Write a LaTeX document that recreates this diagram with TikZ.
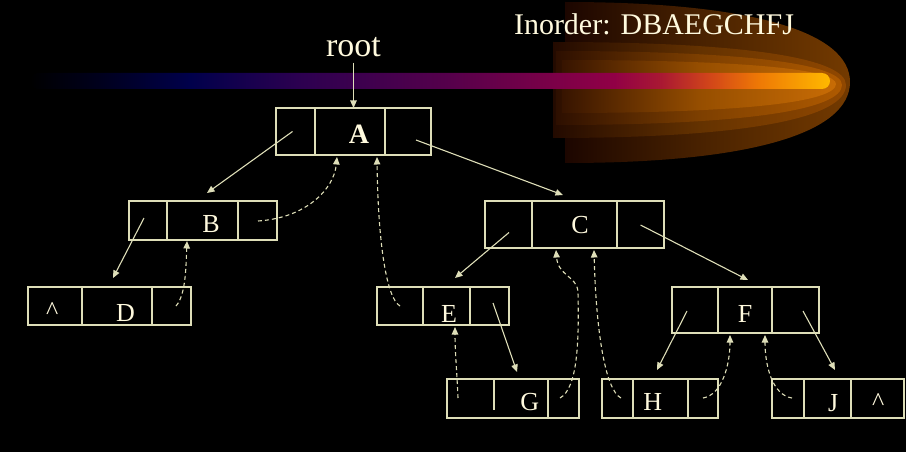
\documentclass[tikz,border=0pt]{standalone}
\usepackage{fontspec}
\setmainfont{Liberation Serif}
\usetikzlibrary{arrows.meta,calc}
\definecolor{lc}{RGB}{222,222,184}
\definecolor{tc}{RGB}{255,250,222}
\definecolor{b0}{RGB}{0,0,0}
\definecolor{b1}{RGB}{0,0,30}
\definecolor{b2}{RGB}{0,0,75}
\definecolor{b3}{RGB}{45,0,80}
\definecolor{b4}{RGB}{85,0,75}
\definecolor{b5}{RGB}{145,0,70}
\definecolor{b6}{RGB}{170,25,50}
\definecolor{b7}{RGB}{210,70,25}
\definecolor{b8}{RGB}{238,120,5}
\definecolor{b9}{RGB}{255,185,0}
\definecolor{g1l}{RGB}{28,6,0}
\definecolor{g1m}{RGB}{75,35,0}
\definecolor{g1r}{RGB}{115,58,0}
\definecolor{g2l}{RGB}{35,10,0}
\definecolor{g2m}{RGB}{100,50,0}
\definecolor{g2r}{RGB}{145,72,0}
\definecolor{g3l}{RGB}{45,15,0}
\definecolor{g3m}{RGB}{125,63,0}
\definecolor{g3r}{RGB}{175,90,0}
\definecolor{g4l}{RGB}{55,20,0}
\definecolor{g4m}{RGB}{150,78,0}
\definecolor{g4r}{RGB}{200,108,5}
\pgfdeclarehorizontalshading{barshade}{100bp}{color(0bp)=(b0); color(25bp)=(b0); color(29.5bp)=(b1); color(35bp)=(b2); color(42bp)=(b3); color(51bp)=(b4); color(61.5bp)=(b5); color(64.5bp)=(b6); color(67.5bp)=(b7); color(70.5bp)=(b8); color(75bp)=(b9); color(100bp)=(b9)}
\tikzset{
  cell/.style={rectangle,inner sep=0pt,outer sep=0pt},
  box/.style={draw=lc,line width=1.2pt},
  ptr/.style={draw=lc,line width=1.1pt,-{Triangle[length=7.5pt,width=6.5pt]}},
  thread/.style={ptr,dash pattern=on 4pt off 3pt},
  lbl/.style={text=tc,inner sep=0pt,anchor=base,font=\fontsize{26}{26}\selectfont}
}
\newcommand\mkrecord[7]{%
  \node[cell,minimum width={#3pt-#2pt},minimum height={#7pt-#6pt}] (#1-l) at ({(#2+#3)/2},{(#6+#7)/2}) {};
  \node[cell,minimum width={#4pt-#3pt},minimum height={#7pt-#6pt}] (#1-d) at ({(#3+#4)/2},{(#6+#7)/2}) {};
  \node[cell,minimum width={#5pt-#4pt},minimum height={#7pt-#6pt}] (#1-r) at ({(#4+#5)/2},{(#6+#7)/2}) {};
  \draw[box] (#1-l.north west) rectangle (#1-r.south east);
  \draw[box] (#1-d.north east) -- (#1-d.south east);
}
\newcommand\glowlayer[8]{%
  \shade[left color=#6,right color=#8,middle color=#7] (#1,#2) .. controls ({#1+0.66*(#4-#1)},#2) and (#4,{#5-0.62*(#5-#2)}) .. (#4,#5) .. controls (#4,{#5+0.62*(#3-#5)}) and ({#1+0.66*(#4-#1)},#3) .. (#1,#3) -- cycle;
}
\begin{document}
\begin{tikzpicture}[x=1pt,y=-1pt]
\useasboundingbox (0,0) rectangle (906,452);
\fill[black] (0,0) rectangle (906,452);
% glow
\glowlayer{565}{2}{163}{850}{82}{g1l}{g1m}{g1r}
\glowlayer{553}{42}{138}{846}{85}{g2l}{g2m}{g2r}
\glowlayer{556}{51}{125}{842}{85}{g3l}{g3m}{g3r}
\glowlayer{562}{60}{113}{836}{84}{g4l}{g4m}{g4r}
% bar
\shade[shading=barshade,rounded corners=8pt] (30,73) rectangle (830,89);
% titles
\node[lbl,font=\fontsize{30}{30}\selectfont] (inorder) at (654,35) {Inorder: DBAEGCHFJ};
\node[lbl,font=\fontsize{34}{34}\selectfont] (root) at (353.5,57) {root};
% records
\mkrecord{A}{276}{315}{385}{431}{108}{155}
\mkrecord{B}{129}{167}{238}{277}{201}{240}
\mkrecord{C}{485}{532}{617}{664}{201}{248}
\mkrecord{D}{28}{82}{152}{191}{287}{325}
\mkrecord{E}{377}{423}{470}{509}{287}{325}
\mkrecord{F}{672}{718}{772}{819}{287}{333}
\mkrecord{G}{447}{494}{548}{579}{379}{418}
\mkrecord{H}{602}{633}{688}{718}{379}{418}
\mkrecord{J}{772}{804}{851}{904}{379}{418}
\foreach \n in {A,B,C,D,E,F,H,J}{\draw[box] (\n-l.north east) -- (\n-l.south east);}
\draw[box] (G-l.north east) -- ++(0,31);
% labels
\node[lbl,font=\bfseries\fontsize{28}{28}\selectfont] (A-t) at (359,143.5) {A};
\node[lbl] (B-t) at (211,232.7) {B};
\node[lbl] (C-t) at (580,233.3) {C};
\node[lbl] (D-t) at (125.5,321.7) {D};
\node[lbl] (D-n) at (52.3,319.6) {\textasciicircum};
\node[lbl] (E-t) at (449,322) {E};
\node[lbl] (F-t) at (745,322) {F};
\node[lbl] (G-t) at (529.7,410.5) {G};
\node[lbl] (H-t) at (652.8,410.7) {H};
\node[lbl] (J-t) at (833.3,411.5) {J};
\node[lbl] (J-n) at (878.3,410.3) {\textasciicircum};
% pointers
\draw[ptr] ([yshift=-5pt]root.south) -- ($(A-d.north)+(3.5,0)$);
\draw[ptr] ($(A-l.center)+(-3,0)$) -- ($(B-d.north)+(4.5,-8)$);
\draw[ptr] ($(A-r.center)+(8,8.5)$) -- ($(C-d.north)+(-11.5,-6)$);
\draw[ptr] ($(B-l.center)+(-4,-2.5)$) -- ($(D-d.north)+(-4,-9)$);
\draw[ptr] ($(C-l.center)+(0.5,8)$) -- ($(E-d.north)+(8.5,-9)$);
\draw[ptr] ($(C-r.center)+(0,0.5)$) -- ($(F-d.north)+(3,-7)$);
\draw[ptr] ($(E-r.center)+(3.5,-3)$) -- ($(G-d.north)+(-4,-7)$);
\draw[ptr] ($(F-l.center)+(-8,1)$) -- ($(H-d.north)+(-3.5,-9)$);
\draw[ptr] ($(F-r.center)+(7.5,1)$) -- ($(J-d.north)+(7.5,-9)$);
% threads
\draw[thread] ($(B-r.center)+(0.5,0.5)$) .. controls +(47,-3) and +(-3,33) .. ($(A-d.south)+(-13,2)$);
\draw[thread] ($(D-r.center)+(4.5,0)$) .. controls +(10,-11) and +(-1,24) .. ($(B-d.south)+(-15.5,1)$);
\draw[thread] (E-l.center) .. controls +(-14,-8) and +(1,83) .. ($(A-d.south)+(27,2)$);
\draw[thread] ($(G-l.center)+(-12.5,-0.5)$) .. controls +(-1,-25) and +(0,25) .. ($(E-d.south)+(8.5,2)$);
\draw[thread] ($(G-r.center)+(-3.5,-0.5)$) .. controls +(18,-10) and +(1,48) .. ++(18,-106) .. controls +(-1,-16) and +(2,26) .. ($(C-d.south)+(-18.5,2)$);
\draw[thread] ($(H-l.center)+(3.5,-0.5)$) .. controls +(-16,-8) and +(2,80) .. ($(C-d.south)+(19.5,2)$);
\draw[thread] ($(H-r.center)+(0,-0.5)$) .. controls +(19,-3) and +(0,30) .. ($(F-d.south)+(-15,2)$);
\draw[thread] ($(J-l.center)+(4,-0.5)$) .. controls +(-20,-3) and +(0,30) .. ($(F-d.south)+(20,2)$);
\end{tikzpicture}
\end{document}
